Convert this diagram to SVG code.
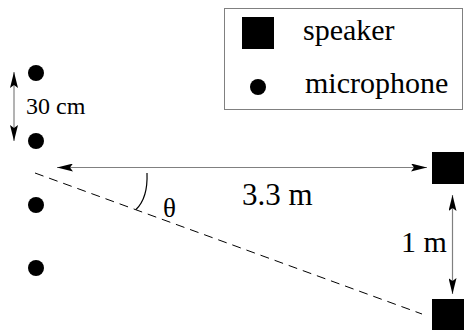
<svg xmlns="http://www.w3.org/2000/svg" width="465" height="333" viewBox="0 0 465 333">
<style>
.lbl{font-family:'Liberation Serif','DejaVu Serif',serif;fill:#000}
.mic{fill:#000}
.spk{fill:#000}
.arrow{stroke:#808080;stroke-width:1.2;fill:none}
</style>
<defs>
<marker id="ah" markerWidth="16" markerHeight="8" refX="16" refY="4" orient="auto-start-reverse" markerUnits="userSpaceOnUse">
<path d="M0,0 L16,4 L0,8 L3,4 Z" fill="#000"/>
</marker>
</defs>
<rect width="465" height="333" fill="#fff"/>
<g id="legend">
<rect x="224.5" y="8.5" width="238" height="101" fill="#fff" stroke="#808080" stroke-width="1"/>
<rect class="spk" x="242" y="17" width="32" height="32"/>
<text class="lbl" font-family="Liberation Serif, serif" x="303" y="40" font-size="30">speaker</text>
<circle class="mic" cx="258" cy="87" r="8"/>
<text class="lbl" font-family="Liberation Serif, serif" x="305" y="93" font-size="30">microphone</text>
</g>
<g id="mic1"><circle class="mic" cx="36" cy="73" r="8"/></g>
<g id="mic2"><circle class="mic" cx="36" cy="141" r="8"/></g>
<g id="mic3"><circle class="mic" cx="36" cy="205" r="8"/></g>
<g id="mic4"><circle class="mic" cx="36" cy="268" r="8"/></g>
<g id="speaker1"><rect class="spk" x="432" y="152" width="32" height="32"/></g>
<g id="speaker2"><rect class="spk" x="432" y="299" width="32" height="31"/></g>
<g id="connectors">
<line class="arrow" x1="14" y1="72" x2="14" y2="141" marker-start="url(#ah)" marker-end="url(#ah)"/>
<line class="arrow" x1="57" y1="167.5" x2="427" y2="167.5" marker-start="url(#ah)" marker-end="url(#ah)"/>
<line class="arrow" x1="452.5" y1="195" x2="452.5" y2="294" marker-start="url(#ah)" marker-end="url(#ah)"/>
<line x1="35" y1="173" x2="422" y2="314" stroke="#000" stroke-width="1" stroke-dasharray="9,6"/>
<path d="M147,173 Q148,198 136,209.5" fill="none" stroke="#000" stroke-width="1.2"/>
</g>
<text class="lbl" font-family="Liberation Serif, serif" x="26" y="114" font-size="24">30 cm</text>
<text class="lbl" font-family="Liberation Serif, serif" x="242" y="205" font-size="31">3.3 m</text>
<text class="lbl" font-family="Liberation Serif, serif" x="163" y="217" font-size="27">θ</text>
<text class="lbl" font-family="Liberation Serif, serif" x="401" y="252" font-size="30">1 m</text>
</svg>
